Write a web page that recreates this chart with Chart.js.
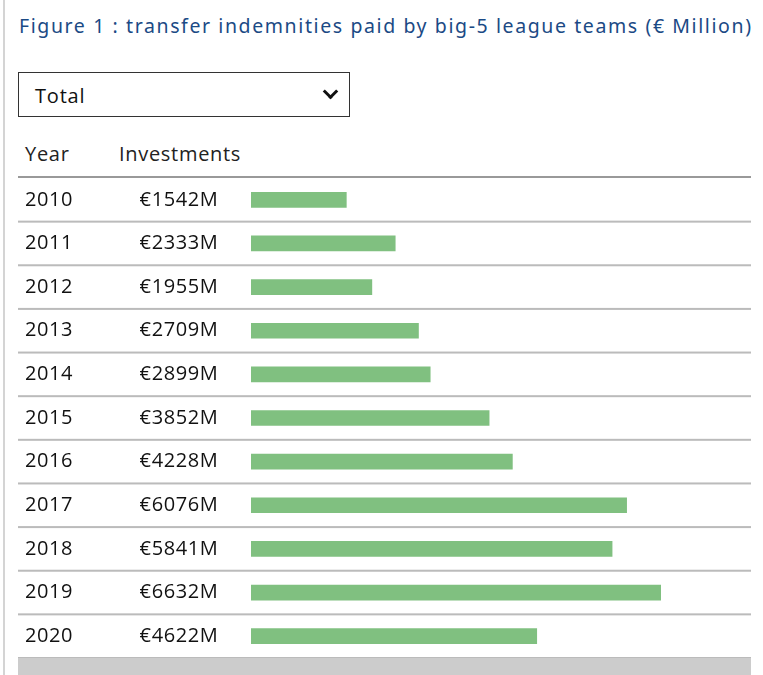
<!DOCTYPE html>
<html>
<head>
<meta charset="utf-8">
<script src="https://cdn.jsdelivr.net/npm/chart.js@4"></script>
<style>
  body { margin: 0; width: 763px; height: 675px; overflow: hidden; background: #fff; font-family: "Open Sans", sans-serif; }
  .edge { position: absolute; left: 3px; top: 0; width: 2px; height: 675px; background: #d4d4d4; }
  .title { position: absolute; left: 19px; top: 12px; font-family: "Noto Sans", sans-serif; font-size: 19.5px; color: #1b4a85; white-space: nowrap; letter-spacing: 1.6px; }
  .picker { position: absolute; left: 18px; top: 72px; width: 330px; height: 43px; border: 1px solid #333; box-sizing: content-box; }
  .picker span { position: absolute; left: 16px; top: 9px; font-size: 20px; letter-spacing: 0.8px; color: #111; }
  .chev { position: absolute; left: 306px; top: 13px; width: 8px; height: 8px; border-right: 3px solid #111; border-bottom: 3px solid #111; transform: rotate(45deg); }
  .head { position: absolute; top: 140px; font-size: 20px; letter-spacing: 0.7px; color: #222; }
  .hline { position: absolute; left: 18px; top: 176px; width: 733px; height: 2px; background: #999; }
  .band { position: absolute; left: 18px; top: 658px; width: 733px; height: 17px; background: #ccc; }
  #wrap { position: absolute; left: 18px; top: 178px; width: 733px; height: 480px; }
</style>
</head>
<body>
<div class="edge"></div>
<div class="title">Figure 1 : transfer indemnities paid by big-5 league teams (€ Million)</div>
<div class="picker"><span>Total</span><div class="chev"></div></div>
<div class="head" style="left:25px">Year</div>
<div class="head" style="left:119px">Investments</div>
<div class="hline"></div>
<div id="wrap"><canvas id="c"></canvas></div>
<div class="band"></div>
<script>
const years = ["2010", "2011", "2012", "2013", "2014", "2015", "2016", "2017", "2018", "2019", "2020"]
const investments = [1542, 2333, 1955, 2709, 2899, 3852, 4228, 6076, 5841, 6632, 4622]

// draws the year / amount columns and the row separators
const RowText = {
    id: "rowText",
    afterDatasetsDraw(chart){
        const ctx = chart.ctx
        const y = chart.scales.y
        const rowH = chart.height / years.length
        ctx.save()
        ctx.font = "20px 'Open Sans', sans-serif"
        ctx.letterSpacing = "0.6px"
        ctx.fillStyle = "#111"
        ctx.textBaseline = "middle"
        years.forEach(function(Year, i){
            const py = y.getPixelForValue(i)
            ctx.textAlign = "left"
            ctx.fillText(Year, 7, py)
            ctx.textAlign = "center"
            ctx.fillText("€" + investments[i] + "M", 161, py)
            ctx.fillStyle = "#bbb"
            ctx.fillRect(0, py + rowH / 2 - 1, chart.width, 2)
            ctx.fillStyle = "#111"
        })
        ctx.restore()
    }
}

new Chart(document.getElementById("c"), {
    type: "bar",
    data: {
        labels: years,
        datasets: [{data: investments, backgroundColor: "#80c080", barThickness: 15}]
    },
    options: {
        indexAxis: "y",
        responsive: true,
        maintainAspectRatio: false,
        animation: false,
        layout: {padding: {left: 233, right: 90, top: 0, bottom: 0}},
        plugins: {legend: {display: false}, tooltip: {enabled: false}},
        scales: {
            x: {display: false, min: 0, max: 6632},
            y: {display: false, offset: true}
        }
    },
    plugins: [RowText]
})
</script>
</body>
</html>
